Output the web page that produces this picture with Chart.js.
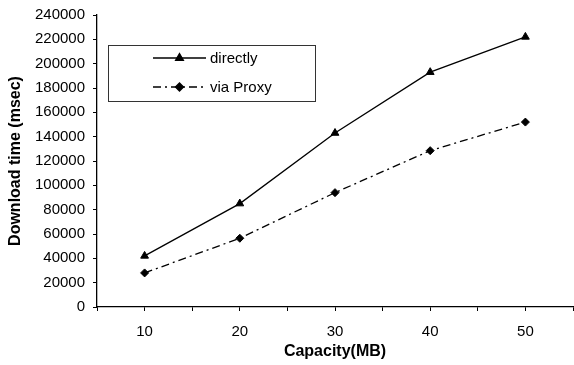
<!DOCTYPE html>
<html>
<head>
<meta charset="utf-8">
<script src="https://cdn.jsdelivr.net/npm/chart.js@4/dist/chart.umd.min.js"></script>
<style>
  html, body { margin: 0; padding: 0; background: #fff; }
  #wrap { width: 574px; height: 365px; }
</style>
</head>
<body>
<div id="wrap"><canvas id="c" width="574" height="365"></canvas></div>
<script>
// Download time against file capacity, direct vs. through the proxy
const capacities = [10, 20, 30, 40, 50];          // MB
const directly   = [42000, 85000, 143000, 193000, 222000];   // msec
const viaProxy   = [28000, 56500, 94000, 128500, 152000];    // msec
const seriesNames = ['directly', 'via Proxy'];
const yTicks = { min: 0, max: 240000, step: 20000 };
const xTitle = 'Capacity(MB)';
const yTitle = 'Download time (msec)';

const FONT = '"Liberation Sans", Arial, sans-serif';
const PROXY_DASH = [8, 4, 2, 4];

function pts(values) {
  return capacities.map((c, i) => ({ x: c, y: values[i] }));
}

// Boxed legend sitting inside the plot, upper left
const boxLegend = {
  id: 'boxLegend',
  afterDraw(chart) {
    const ctx = chart.ctx;
    const left = 108.5, top = 45.5, right = 315.5, bottom = 101.5;
    ctx.save();
    ctx.strokeStyle = '#333';
    ctx.lineWidth = 1;
    ctx.strokeRect(left, top, right - left, bottom - top);
    const rows = [58, 87];
    chart.data.datasets.forEach((ds, i) => {
      const y = rows[i];
      ctx.strokeStyle = ds.borderColor;
      ctx.lineWidth = ds.borderWidth;
      ctx.setLineDash(ds.borderDash || []);
      ctx.beginPath();
      ctx.moveTo(153, y);
      ctx.lineTo(206, y);
      ctx.stroke();
      ctx.setLineDash([]);
      Chart.helpers.drawPoint(ctx, {
        pointStyle: ds.pointStyle,
        radius: ds.pointRadius,
        rotation: 0,
        borderWidth: 1
      }, 179.5, y);
      ctx.fillStyle = '#000';
      ctx.font = '15px ' + FONT;
      ctx.textBaseline = 'middle';
      ctx.textAlign = 'left';
      ctx.fillText(ds.label, 210, y + 1);
    });
    ctx.restore();
  }
};

new Chart(document.getElementById('c'), {
  type: 'line',
  data: {
    datasets: [
      {
        label: seriesNames[0],
        data: pts(directly),
        borderColor: '#000',
        backgroundColor: '#000',
        borderWidth: 1.3,
        pointStyle: 'triangle',
        pointRadius: 4.5,
        pointBorderWidth: 1,
        tension: 0
      },
      {
        label: seriesNames[1],
        data: pts(viaProxy),
        borderColor: '#000',
        backgroundColor: '#000',
        borderWidth: 1.3,
        borderDash: PROXY_DASH,
        pointStyle: 'rectRot',
        pointRadius: 4,
        pointBorderWidth: 1,
        tension: 0
      }
    ]
  },
  options: {
    responsive: false,
    animation: false,
    layout: { autoPadding: false, padding: { top: 15, right: 1, left: 0, bottom: 0 } },
    plugins: {
      legend: { display: false },
      tooltip: { enabled: false }
    },
    scales: {
      x: {
        type: 'linear',
        min: capacities[0] - 5,
        max: capacities[capacities.length - 1] + 5,
        afterFit(scale) {
          scale.height = 58;
          scale.paddingLeft = 0;
          scale.paddingRight = 0;
        },
        ticks: {
          stepSize: 5,
          autoSkip: false,
          maxRotation: 0,
          padding: 12,
          color: '#000',
          font: { family: FONT, size: 15 },
          callback: v => (v % 10 === 0 ? String(v) : '')
        },
        grid: {
          drawOnChartArea: false,
          drawTicks: true,
          tickLength: 4,
          color: '#000'
        },
        border: { display: true, color: '#000', width: 1.3 },
        title: {
          display: true,
          text: xTitle,
          color: '#000',
          font: { family: FONT, size: 16, weight: 'bold' },
          padding: { top: 0, bottom: 4 }
        }
      },
      y: {
        min: yTicks.min,
        max: yTicks.max,
        afterFit(scale) {
          scale.width = 97;
          scale.paddingTop = 0;
          scale.paddingBottom = 0;
        },
        ticks: {
          stepSize: yTicks.step,
          padding: 8,
          color: '#000',
          font: { family: FONT, size: 15 },
          callback: v => String(v)
        },
        grid: {
          drawOnChartArea: false,
          drawTicks: true,
          tickLength: 4,
          color: '#000'
        },
        border: { display: true, color: '#000', width: 1.3 },
        title: {
          display: true,
          text: yTitle,
          color: '#000',
          font: { family: FONT, size: 16, weight: 'bold' },
          padding: { top: 6, bottom: 0 }
        }
      }
    }
  },
  plugins: [boxLegend]
});
</script>
</body>
</html>
